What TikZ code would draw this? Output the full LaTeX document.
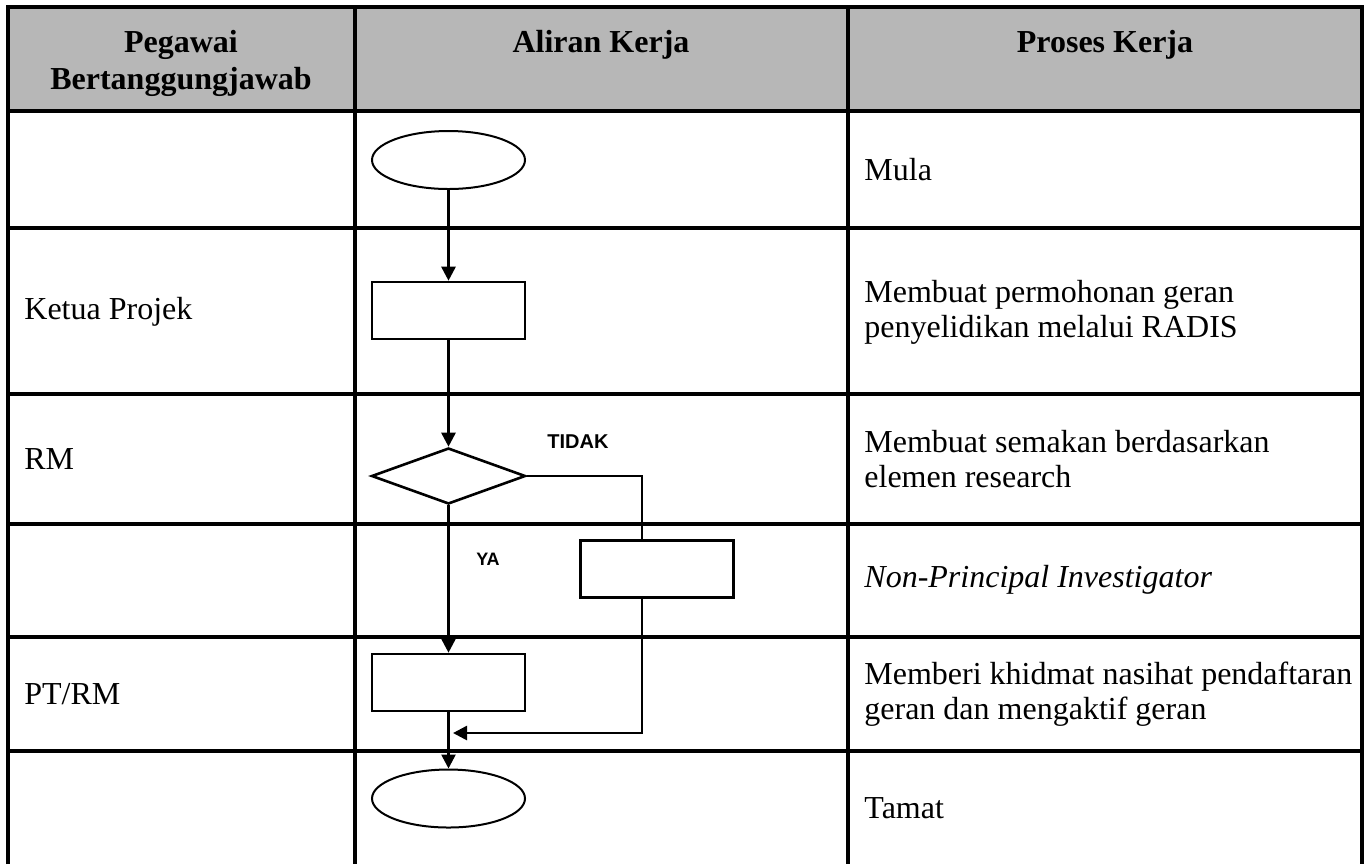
\documentclass[tikz,border=0pt]{standalone}
\usepackage{fontspec}
\setmainfont{Liberation Serif}
\newfontfamily\lsans{Liberation Sans}
\usetikzlibrary{shapes.geometric,arrows.meta}
\definecolor{headgray}{RGB}{183,183,183}
\begin{document}
\begin{tikzpicture}[x=0.5pt,y=-0.5pt,
  grid/.style={line width=1.6pt},
  flow/.style={line width=1.3pt},
  tip/.style={-{Triangle[width=7pt,length=7pt]}},
  oval/.style={draw, ellipse, line width=1pt, minimum width=76.5pt, minimum height=29pt, inner sep=0pt},
  box/.style={draw, rectangle, line width=1.3pt, minimum width=76.5pt, minimum height=28.5pt, inner sep=0pt},
  decide/.style={draw, diamond, line width=1.3pt, minimum width=77pt, minimum height=28pt, inner sep=0pt},
  cell/.style={anchor=west, align=left, inner sep=0pt, font=\fontsize{16}{17.5}\selectfont},
  head/.style={align=center, inner sep=0pt, font=\fontsize{16}{18.5}\selectfont\bfseries},
  lab/.style={inner sep=0pt, font=\lsans\bfseries\fontsize{10}{12}\selectfont}
]
\useasboundingbox (0,0) rectangle (1369,864);
% table
\fill[headgray] (8,7) rectangle (1362,111);
\draw[grid] (8,864) -- (8,7) -- (1362,7) -- (1362,864);
\draw[grid] (355,7) -- (355,864);
\draw[grid] (848,7) -- (848,864);
\foreach \yy in {111,228,394,524,637,751} \draw[grid] (8,\yy) -- (1362,\yy);
% header
\node[head] (h1) at (181,63) {Pegawai\\Bertanggungjawab};
\node[head] (h2) at (601,45) {Aliran Kerja};
\node[head] (h3) at (1105,45) {Proses Kerja};
% column 1
\node[cell] (p1) at (24,312) {Ketua Projek};
\node[cell] (p2) at (24,459) {RM};
\node[cell] (p3) at (24,694) {PT/RM};
% column 3
\node[cell] (k1) at (864,170) {Mula};
\node[cell] (k2) at (864,312) {Membuat permohonan geran\\penyelidikan melalui RADIS};
\node[cell] (k3) at (864,459) {Membuat semakan berdasarkan\\elemen research};
\node[cell] (k4) at (864,580) {\itshape Non-Principal Investigator};
\node[cell] (k5) at (864,694) {Memberi khidmat nasihat pendaftaran\\geran dan mengaktif geran};
\node[cell] (k6) at (864,808) {Tamat};
% flowchart
\node[oval] (s) at (448.5,160) {};
\node[box] (r1) at (448.5,310.5) {};
\node[decide] (d) at (448.5,476) {};
\node[box] (r2) at (657,569) {};
\node[box] (r3) at (448.5,682.5) {};
\node[oval] (e) at (448.5,798.5) {};
\coordinate (br) at (642,476);
\coordinate (rt) at (642,733);
\coordinate (rte) at (453,733);
\draw[flow,tip] (s.south) -- (r1.north);
\draw[flow,tip] (r1.south) -- (d.north);
\draw[flow] (d.east) -- (br) -- (br |- r2.north);
\draw[flow,tip] (br |- r2.south) -- (rt) -- (rte);
\draw[flow,tip] (d.south) -- (r3.north);
\draw[flow,tip] (r3.south) -- (e.north);
\node[lab] (tidak) at (578,442) {TIDAK};
\node[lab, font=\lsans\bfseries\fontsize{9}{11}\selectfont] (ya) at (488,559) {YA};
\end{tikzpicture}
\end{document}
